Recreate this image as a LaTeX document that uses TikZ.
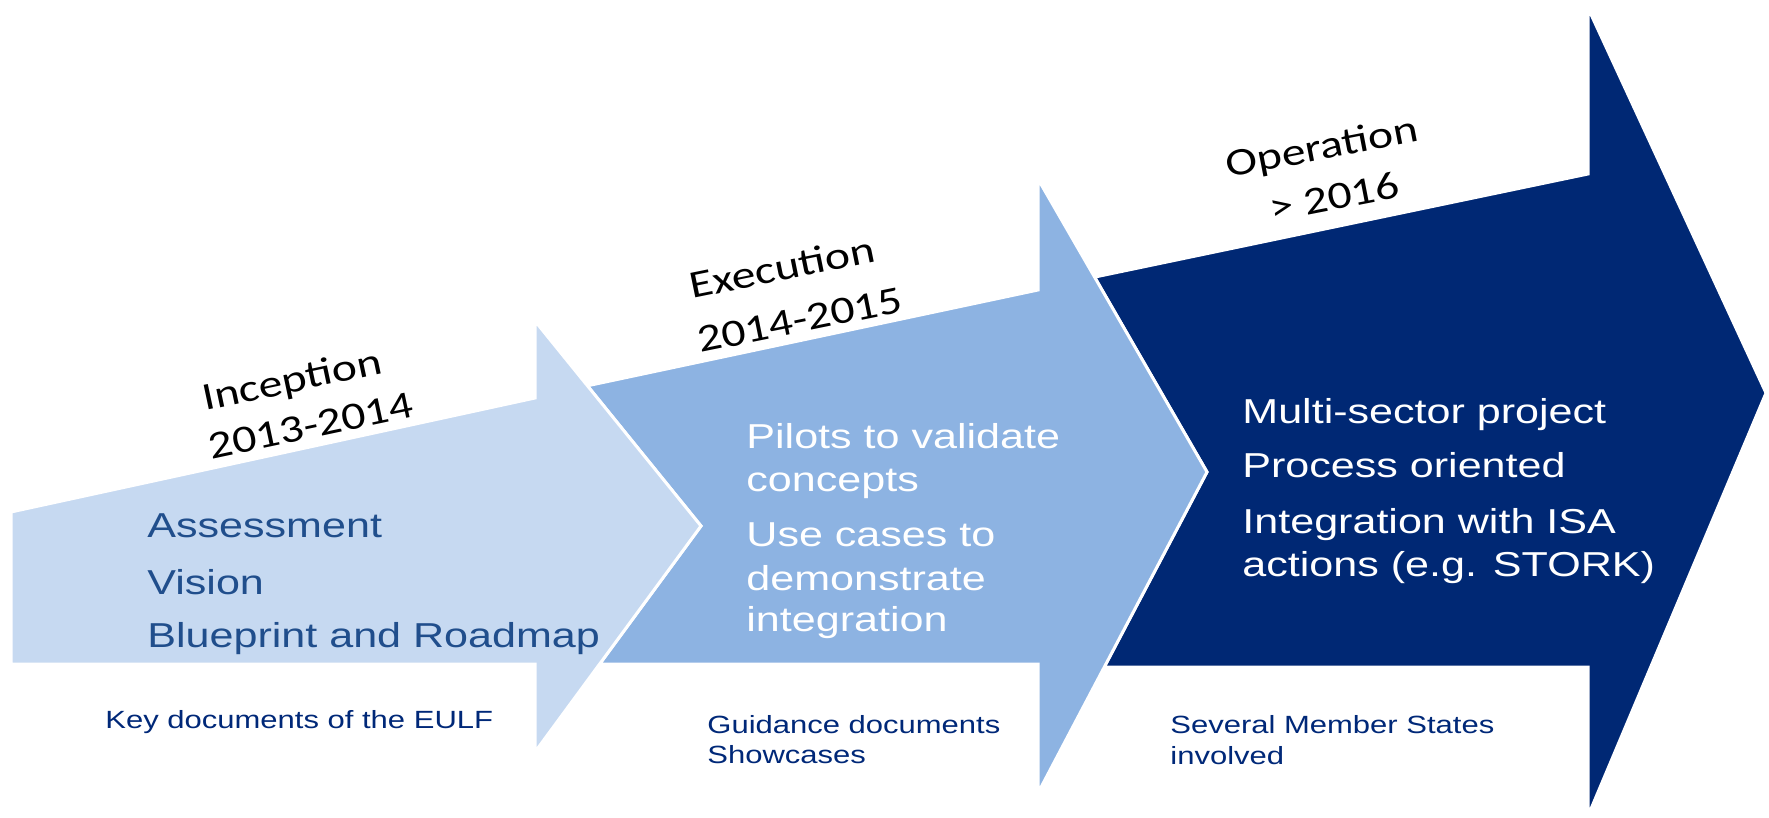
\documentclass[tikz,border=0pt]{standalone}
\usepackage{fontspec}
\setmainfont{Liberation Sans}
\newfontfamily\arialw[FakeStretch=1.245]{Liberation Sans}
\newfontfamily\calw[FakeStretch=1.23]{Carlito}
\definecolor{aonefill}{RGB}{198,217,241}
\definecolor{atwofill}{RGB}{141,179,226}
\definecolor{athreefill}{RGB}{0,40,116}
\definecolor{aonetext}{RGB}{32,78,140}
\definecolor{navytext}{RGB}{0,40,120}
\begin{document}
\begin{tikzpicture}[x=0.5pt,y=-0.5pt,
  arrowshape/.style={draw=white, line width=1.5pt, line join=miter},
  item/.style={anchor=base west, inner sep=0pt, font=\arialw\fontsize{17.3}{20}\selectfont},
  note/.style={anchor=base west, inner sep=0pt, text=navytext, font=\arialw\fontsize{12.45}{15}\selectfont},
  phase/.style={anchor=base west, inner sep=0pt, text=black, font=\calw\fontsize{19.4}{23}\selectfont},
]
\useasboundingbox (0,0) rectangle (1769,818);
% arrows (back to front)
\draw[arrowshape, fill=athreefill] (1094.6,277.1) -- (1588,174) -- (1588,8) -- (1766,393) -- (1588,816) -- (1588,667) -- (1104.3,667) -- (1207,472) -- cycle;
\draw[arrowshape, fill=atwofill] (587.4,385.8) -- (1038,290) -- (1038,179) -- (1207,472) -- (1038,793) -- (1038,664) -- (599.7,664) -- (701,526) -- cycle;
\draw[arrowshape, fill=aonefill] (11,512) -- (535,398) -- (535,321) -- (701,526) -- (535,752) -- (535,664) -- (11,664) -- cycle;
% phase labels
\node[phase, rotate=12] (p1a) at (205,411) {Inception};
\node[phase, rotate=12] (p1b) at (211,460) {2013-2014};
\node[phase, rotate=11.5] (p2a) at (692,299) {Execution};
\node[phase, rotate=11.5] (p2b) at (700,353) {2014-2015};
\node[phase, rotate=11] (p3a) at (1228,178) {Operation};
\node[phase, rotate=11] (p3b) at (1272,222) {> 2016};
% arrow 1 items
\node[item, text=aonetext] (a1) at (147,538) {Assessment};
\node[item, text=aonetext] (a2) at (147,594) {Vision};
\node[item, text=aonetext] (a3) at (147,647.5) {Blueprint and Roadmap};
% arrow 2 items
\node[item, text=white] (b1) at (746,449) {Pilots to validate};
\node[item, text=white] (b2) at (746,491.5) {concepts};
\node[item, text=white] (b3) at (746,546) {Use cases to};
\node[item, text=white] (b4) at (746,590) {demonstrate};
\node[item, text=white] (b5) at (746,632) {integration};
% arrow 3 items
\node[item, text=white] (c1) at (1242,424) {Multi-sector project};
\node[item, text=white] (c2) at (1242,478) {Process oriented};
\node[item, text=white] (c3) at (1242,533) {Integration with ISA};
\node[item, text=white] (c4) at (1242,576.5) {actions (e.g. STORK)};
% bottom notes
\node[note] (n1) at (105,728) {Key documents of the EULF};
\node[note] (n2a) at (707,733) {Guidance documents};
\node[note] (n2b) at (707,763) {Showcases};
\node[note] (n3a) at (1170,733) {Several Member States};
\node[note] (n3b) at (1170,764) {involved};
\end{tikzpicture}
\end{document}
